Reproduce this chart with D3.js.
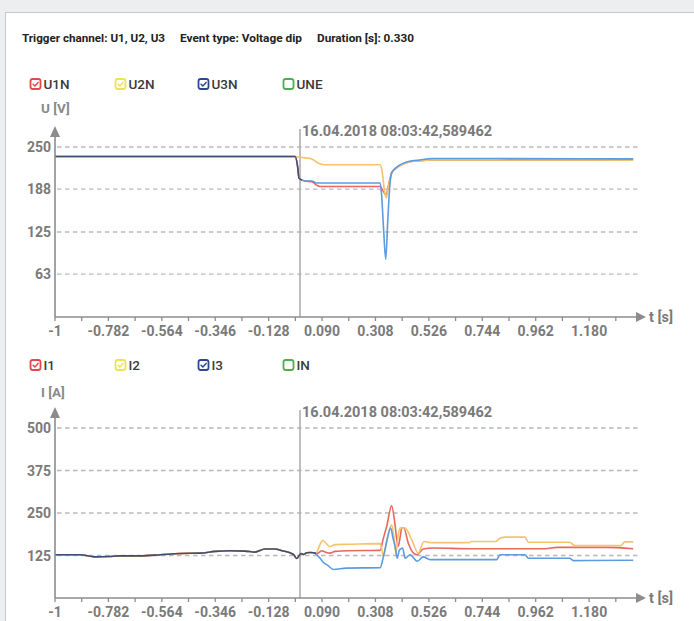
<!DOCTYPE html>
<html><head><meta charset="utf-8">
<script src="https://cdn.jsdelivr.net/npm/d3@7"></script>
<style>body{margin:0;background:#eceef0;} svg{display:block;font-family:Roboto, "Noto Sans", sans-serif}</style>
</head><body><svg id="c" width="694" height="621"></svg>
<script>
// ---------------- DATA ----------------
const titleParts = ["Trigger channel: U1, U2, U3", "Event type: Voltage dip", "Duration [s]: 0.330"];
const timestamp = "16.04.2018 08:03:42,589462";
const xTickLabels = ["-1","-0.782","-0.564","-0.346","-0.128","0.090","0.308","0.526","0.744","0.962","1.180"];
const xMinorStep = 0.109;
const uTicks = [63, 125, 188, 250];
const iTicks = [125, 250, 375, 500];
const uLegend = ["U1N", "U2N", "U3N", "UNE"];
const iLegend = ["I1", "I2", "I3", "IN"];
const legendChecked = [true, true, true, false];

// Voltage series (t in s, value in V)
const u1T = [-1, -0.02, -0.01, -0.004, 0.02, 0.048, 0.068, 0.08, 0.327, 0.335, 0.345, 0.352, 0.36, 0.374, 0.39, 0.41, 0.435, 0.49, 0.543, 0.8, 1.36];
const u1V = [236, 236, 222, 204, 200, 199, 194, 192, 192, 188, 182, 180, 192, 212, 218, 223, 227, 230, 231, 231, 231];
const u2T = [-1, -0.02, 0.0, 0.02, 0.048, 0.075, 0.1, 0.327, 0.335, 0.345, 0.352, 0.36, 0.374, 0.39, 0.41, 0.435, 0.49, 0.543, 0.8, 1.36];
const u2V = [236, 236, 235, 234, 232.5, 226, 224, 224, 215, 185, 175, 190, 211, 218, 223, 227, 230, 231, 231, 230.5];
const u3T = [-1, -0.02, -0.01, -0.004, 0.02, 0.048, 0.068, 0.08, 0.327, 0.333, 0.341, 0.35, 0.358, 0.366, 0.374, 0.39, 0.41, 0.435, 0.49, 0.543, 0.8, 1.36];
const u3V = [236, 236, 222, 204, 200, 200, 197, 197, 197, 180, 130, 85, 140, 190, 212, 219, 224, 228, 231, 233, 233, 232.5];

// Current series (t in s, value in A)
const iPreT = [-1, -0.898, -0.837, -0.78, -0.735, -0.653, -0.571, -0.49, -0.408, -0.347, -0.286, -0.224, -0.184, -0.143, -0.102, -0.073, -0.041, -0.025, -0.013, -0.004, 0.004, 0.014, 0.027, 0.041, 0.055, 0.065];
const iPreV = [127, 127, 121, 122, 124, 124, 127, 131, 132, 137, 139, 138, 135, 144, 144, 139, 133, 127, 116, 124, 131, 128, 133, 134, 133, 131];
const i1T = [0.078, 0.088, 0.1, 0.122, 0.143, 0.2, 0.327, 0.34, 0.354, 0.374, 0.387, 0.395, 0.401, 0.41, 0.415, 0.424, 0.442, 0.476, 0.503, 0.544, 0.7, 1.0, 1.05, 1.25, 1.36];
const i1V = [134, 139, 136, 132, 137, 139, 140, 175, 211, 271, 220, 171, 152, 185, 206, 206, 161, 127, 144, 147, 145, 145, 149, 149, 145];
const i2T = [0.075, 0.085, 0.093, 0.105, 0.122, 0.143, 0.2, 0.327, 0.335, 0.34, 0.355, 0.374, 0.385, 0.392, 0.4, 0.408, 0.429, 0.456, 0.483, 0.506, 0.53, 0.69, 0.7, 0.8, 0.816, 0.84, 0.918, 0.932, 1.1, 1.122, 1.31, 1.325, 1.36];
const i2V = [145, 163, 169, 162, 151, 157, 158, 160, 140, 122, 170, 215, 170, 132, 180, 206, 206, 171, 132, 166, 163, 163, 166, 166, 176, 179, 179, 164, 164, 154, 154, 165, 165];
const i3T = [0.075, 0.082, 0.095, 0.115, 0.136, 0.19, 0.327, 0.34, 0.355, 0.37, 0.38, 0.388, 0.397, 0.405, 0.411, 0.419, 0.429, 0.449, 0.479, 0.503, 0.531, 0.803, 0.816, 0.918, 0.932, 1.1, 1.116, 1.36];
const i3V = [122, 117, 105, 95, 84, 88, 89, 120, 170, 206, 175, 152, 117, 140, 144, 147, 117, 127, 108, 121, 113, 113, 127, 127, 117, 117, 110, 111];

// ---------------- STYLE ----------------
const legendColors = ["#e04a4f", "#ece44c", "#2b4a8e", "#4cae50"];
const lineColors = ["#e8675f", "#f5c36c", "#5b9be0"];
const preColor = "#3f4c74";

const svg = d3.select("#c");
svg.append("rect").attr("x", 5.5).attr("y", 12.5).attr("width", 720).attr("height", 700)
  .attr("fill", "#fff").attr("stroke", "#c5c9cd");

// title
const titleX = [22, 180, 317], titleW = [143, 122, 97];
titleParts.forEach((t, i) => {
  svg.append("text").attr("x", titleX[i]).attr("y", 42).text(t)
    .attr("font-size", 11).attr("font-weight", 700).attr("fill", "#222")
    .attr("textLength", titleW[i]).attr("lengthAdjust", "spacingAndGlyphs");
});

const x = d3.scaleLinear().domain([-1, 1.4]).range([55, 643]);

const defs = svg.append("defs");
function grad(id, tSplit) {
  const g = defs.append("linearGradient").attr("id", id).attr("gradientUnits", "userSpaceOnUse")
    .attr("x1", x(-1)).attr("x2", x(1.4)).attr("y1", 0).attr("y2", 0);
  const off = (x(tSplit) - x(-1)) / (x(1.4) - x(-1));
  g.append("stop").attr("offset", off).attr("stop-color", preColor);
  g.append("stop").attr("offset", off).attr("stop-color", lineColors[2]);
}
grad("gU", 0.01);
grad("gI", 0.066);

function checkbox(g, cx, cy, color, checked) {
  g.append("rect").attr("x", cx).attr("y", cy - 5).attr("width", 10).attr("height", 10).attr("rx", 2.2)
    .attr("fill", "#fff").attr("stroke", color).attr("stroke-width", 1.8);
  if (checked) {
    g.append("path").attr("d", `M${cx + 2.6},${cy + 0.2} L${cx + 4.4},${cy + 2} L${cx + 7.6},${cy - 1.6}`)
      .attr("fill", "none").attr("stroke", color).attr("stroke-width", 1.5).attr("stroke-linecap", "round");
  }
}

function chart(cfg) {
  const g = svg.append("g");
  const y = d3.scaleLinear().domain(cfg.domain).range([cfg.axisY, cfg.topY]);
  // legend
  const lx = [30.5, 115.5, 198.5, 283.5];
  cfg.legend.forEach((name, i) => {
    checkbox(g, lx[i], cfg.legendY, legendColors[i], legendChecked[i]);
    g.append("text").attr("x", lx[i] + 13).attr("y", cfg.legendY + 5).text(name)
      .attr("font-size", 13.5).attr("font-weight", 500).attr("fill", "#3a3a3a");
  });
  g.append("text").attr("x", 41).attr("y", cfg.labelY + 5).text(cfg.unit)
    .attr("font-size", 13.5).attr("font-weight", 700).attr("fill", "#8a8a8a");
  // grid
  g.selectAll(".grid").data(cfg.ticks).join("line")
    .attr("x1", 57).attr("x2", 639).attr("y1", d => y(d)).attr("y2", d => y(d))
    .attr("stroke", "#b9b9b9").attr("stroke-width", 1.4).attr("stroke-dasharray", "4.5,3.5");
  g.selectAll(".yl").data(cfg.ticks).join("text")
    .attr("x", 51).attr("y", d => y(d) + 5).attr("text-anchor", "end").text(d => d)
    .attr("font-size", 14).attr("font-weight", 700).attr("fill", "#7a7a7a");
  // marker
  g.append("line").attr("x1", x(0)).attr("x2", x(0)).attr("y1", cfg.topY - 18).attr("y2", cfg.axisY)
    .attr("stroke", "#a9a9a9").attr("stroke-width", 1.5);
  g.append("text").attr("x", x(0) + 2).attr("y", cfg.topY - 11).text(timestamp)
    .attr("font-size", 14.5).attr("font-weight", 700).attr("fill", "#7a7a7a");
  // lines
  const line = d3.line().x(d => x(d[0])).y(d => y(d[1])).curve(d3.curveMonotoneX);
  cfg.series.forEach((s, i) => {
    g.append("path").datum(d3.zip(s[0], s[1])).attr("d", line).attr("fill", "none")
      .attr("stroke", s[2]).attr("stroke-width", 1.6).attr("stroke-linejoin", "round");
  });
  // axes
  const ax = "#8c8c8c";
  g.append("line").attr("x1", 55).attr("x2", 55).attr("y1", cfg.axisY).attr("y2", cfg.topY - 12)
    .attr("stroke", ax).attr("stroke-width", 1.6);
  g.append("path").attr("d", `M55,${cfg.topY - 21} L50,${cfg.topY - 10} L60,${cfg.topY - 10} Z`).attr("fill", ax);
  g.append("line").attr("x1", 55).attr("x2", 637).attr("y1", cfg.axisY).attr("y2", cfg.axisY)
    .attr("stroke", ax).attr("stroke-width", 1.6);
  g.append("path").attr("d", `M646,${cfg.axisY} L636,${cfg.axisY - 5} L636,${cfg.axisY + 5} Z`).attr("fill", ax);
  g.append("text").attr("x", 649).attr("y", cfg.axisY + 5).text("t [s]")
    .attr("font-size", 14.5).attr("font-weight", 700).attr("fill", "#7a7a7a");
  const minor = d3.range(0, 22).map(k => -1 + k * xMinorStep);
  g.selectAll(".tk").data(minor).join("line")
    .attr("x1", d => x(d)).attr("x2", d => x(d)).attr("y1", cfg.axisY).attr("y2", cfg.axisY + 4)
    .attr("stroke", ax).attr("stroke-width", 1.3);
  g.selectAll(".xl").data(xTickLabels).join("text")
    .attr("x", d => x(+d)).attr("y", cfg.axisY + 19).attr("text-anchor", "middle").text(d => d)
    .attr("font-size", 14).attr("font-weight", 700).attr("fill", "#7a7a7a");
}

chart({
  legend: uLegend, legendY: 84, unit: "U [V]", labelY: 108, domain: [0, 250], topY: 147, axisY: 317,
  ticks: uTicks,
  series: [[u1T, u1V, lineColors[0]], [u2T, u2V, lineColors[1]], [u3T, u3V, "url(#gU)"]]
});
chart({
  legend: iLegend, legendY: 365, unit: "I [A]", labelY: 392, domain: [0, 500], topY: 428, axisY: 598,
  ticks: iTicks,
  series: [
    [iPreT.concat(i1T), iPreV.concat(i1V), lineColors[0]],
    [iPreT.concat(i2T), iPreV.concat(i2V), lineColors[1]],
    [iPreT.concat(i3T), iPreV.concat(i3V), "url(#gI)"]
  ]
});
</script></body></html>
